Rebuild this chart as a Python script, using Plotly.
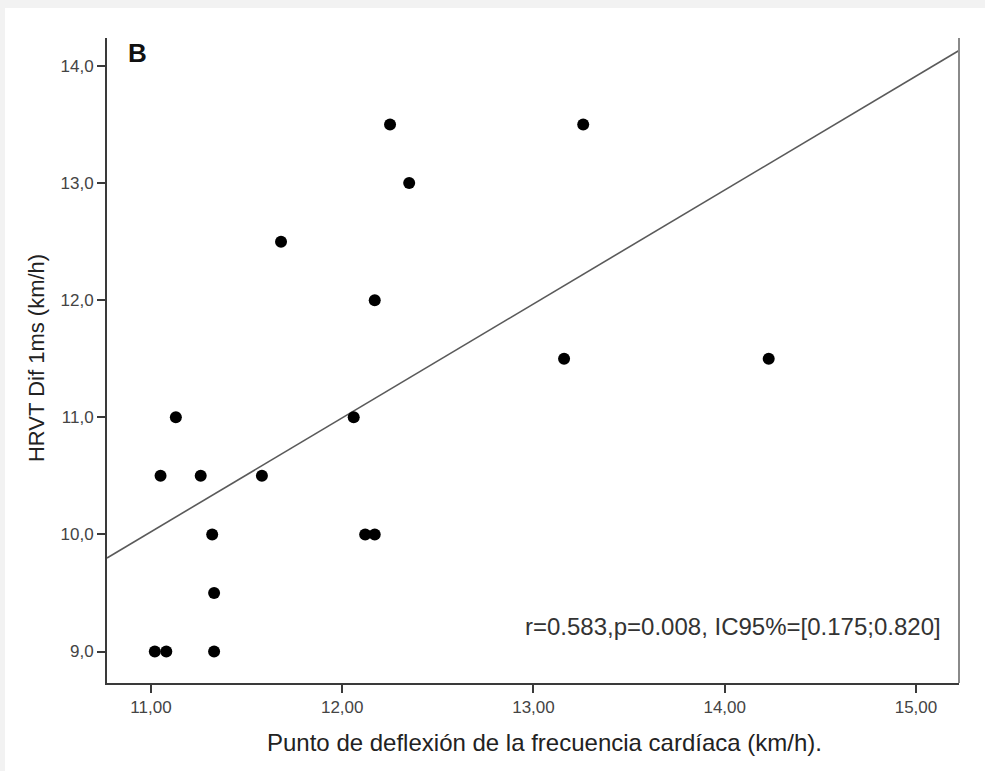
import numpy as np
import plotly.graph_objects as go

# Data
pdfc_kmh = [11.02, 11.08, 11.33, 11.33, 11.32, 11.05, 11.26, 11.13, 11.58, 11.68,
            12.06, 12.12, 12.17, 12.17, 12.25, 12.35, 13.16, 13.26, 14.23]
hrvt_kmh = [9.0, 9.0, 9.0, 9.5, 10.0, 10.5, 10.5, 11.0, 10.5, 12.5,
            11.0, 10.0, 10.0, 12.0, 13.5, 13.0, 11.5, 13.5, 11.5]
x_ticks = [11, 12, 13, 14, 15]
y_ticks = [9, 10, 11, 12, 13, 14]
x_range = [10.77, 15.225]
y_range = [8.731, 14.239]

slope, intercept = np.polyfit(pdfc_kmh, hrvt_kmh, 1)
fit_x = np.array(x_range)
fit_y = slope * fit_x + intercept

font_family = "Liberation Sans, Arial, sans-serif"

fig = go.Figure()
fig.add_trace(go.Scatter(x=fit_x, y=fit_y, mode="lines",
                         line=dict(color="#5a5a5a", width=1.6),
                         hoverinfo="skip", showlegend=False))
fig.add_trace(go.Scatter(x=pdfc_kmh, y=hrvt_kmh, mode="markers",
                         marker=dict(color="#000000", size=12),
                         showlegend=False))

fig.update_layout(
    width=985, height=771,
    margin=dict(l=107, r=26, t=38, b=88),
    paper_bgcolor="#f2f2f2",
    plot_bgcolor="rgba(0,0,0,0)",
    separators=",.",
    font=dict(family=font_family, color="#222222"),
    xaxis=dict(range=x_range, tickvals=x_ticks, tickformat=".2f",
               showgrid=False, zeroline=False, showline=True,
               linecolor="#3a3a3a", linewidth=2, ticks="outside", ticklen=8,
               tickwidth=2, tickcolor="#3a3a3a",
               tickfont=dict(size=17, color="#444444")),
    yaxis=dict(range=y_range, tickvals=y_ticks, tickformat=".1f",
               showgrid=False, zeroline=False, showline=True,
               linecolor="#3a3a3a", linewidth=2, ticks="outside", ticklen=8,
               tickwidth=2, tickcolor="#3a3a3a",
               tickfont=dict(size=17, color="#444444")),
    shapes=[
        dict(type="rect", xref="paper", yref="paper", layer="below",
             x0=-0.1197, x1=1.2, y0=-0.3, y1=1.0465,
             fillcolor="#ffffff", line=dict(width=0)),
        dict(type="line", xref="paper", yref="paper",
             x0=1, x1=1, y0=0, y1=1, line=dict(color="#8a8a8a", width=2)),
    ],
    annotations=[
        dict(text="<b>B</b>", xref="paper", yref="paper", x=0.0223, y=0.9767,
             xanchor="left", yanchor="middle", showarrow=False,
             font=dict(size=26, color="#111111")),
        dict(text="r=0.583,p=0.008, IC95%=[0.175;0.820]", xref="paper", yref="paper",
             x=0.981, y=0.088, xanchor="right", yanchor="middle", showarrow=False,
             font=dict(size=24, color="#333333")),
        dict(text="Punto de deflexión de la frecuencia cardíaca (km/h).",
             xref="paper", yref="paper", x=0.514, y=-0.093,
             xanchor="center", yanchor="middle", showarrow=False,
             font=dict(size=24, color="#222222")),
        dict(text="HRVT Dif 1ms (km/h)", xref="paper", yref="paper",
             x=-0.082, y=0.504, xanchor="center", yanchor="middle",
             textangle=-90, showarrow=False,
             font=dict(size=22, color="#222222")),
    ],
)

fig.write_html("out.html")
